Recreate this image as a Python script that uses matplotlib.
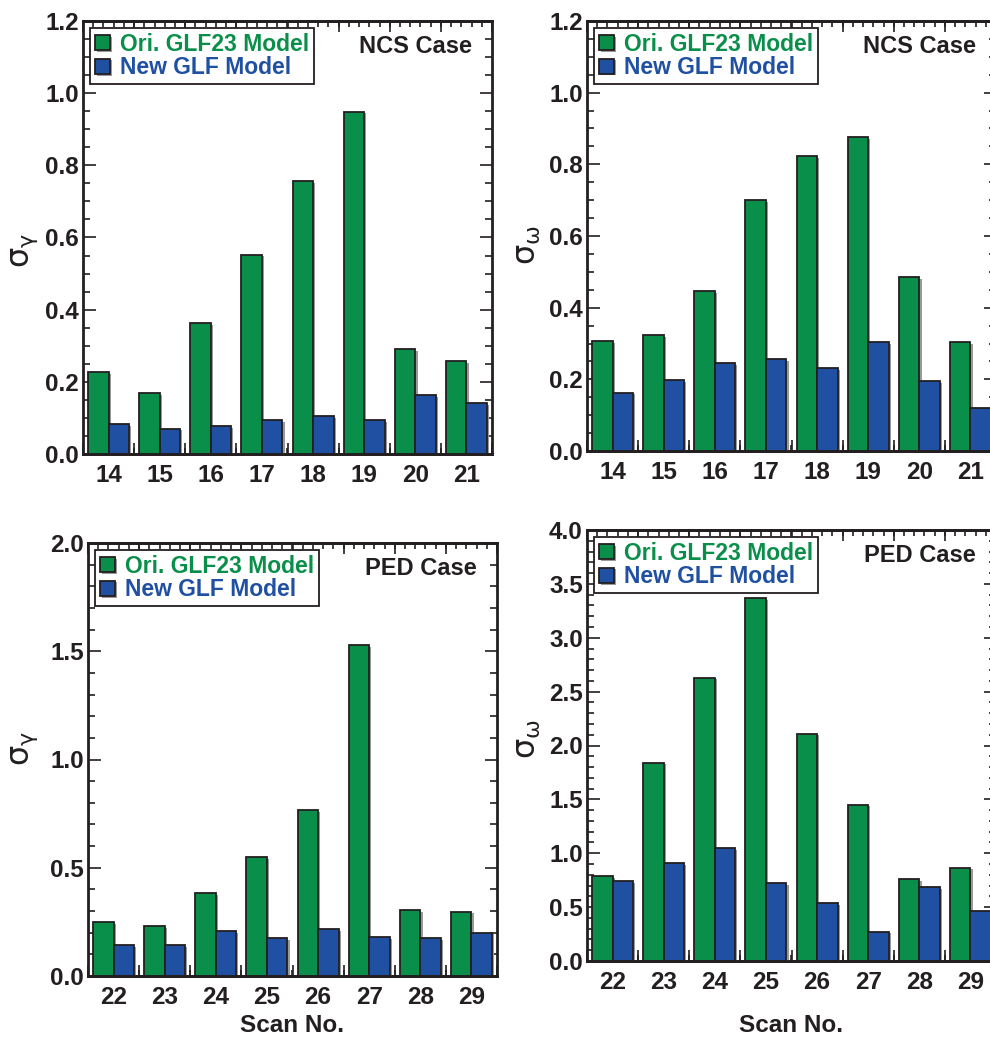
import matplotlib
matplotlib.use("Agg")
import matplotlib.pyplot as plt
import matplotlib.patheffects as pe
import numpy as np
from matplotlib.ticker import MultipleLocator

plt.rcParams['font.family'] = ['Liberation Sans', 'DejaVu Sans']
plt.rcParams['font.weight'] = 'bold'
plt.rcParams['mathtext.fontset'] = 'custom'
plt.rcParams['mathtext.rm'] = 'DejaVu Sans:weight=normal'
plt.rcParams['mathtext.it'] = 'DejaVu Sans:weight=normal'

# data
scan_ncs = [14, 15, 16, 17, 18, 19, 20, 21]
scan_ped = [22, 23, 24, 25, 26, 27, 28, 29]

gamma_ncs_ori = [0.227, 0.168, 0.363, 0.552, 0.757, 0.949, 0.291, 0.258]
gamma_ncs_new = [0.082, 0.070, 0.077, 0.093, 0.104, 0.093, 0.163, 0.140]

omega_ncs_ori = [0.307, 0.323, 0.446, 0.700, 0.822, 0.876, 0.485, 0.304]
omega_ncs_new = [0.163, 0.198, 0.245, 0.257, 0.231, 0.304, 0.195, 0.121]

gamma_ped_ori = [0.248, 0.230, 0.383, 0.550, 0.767, 1.529, 0.303, 0.297]
gamma_ped_new = [0.143, 0.143, 0.206, 0.174, 0.217, 0.180, 0.174, 0.200]

omega_ped_ori = [0.790, 1.840, 2.630, 3.370, 2.110, 1.450, 0.760, 0.865]
omega_ped_new = [0.740, 0.910, 1.050, 0.720, 0.535, 0.272, 0.684, 0.467]

GREEN = '#0a8f4a'
BLUE = '#2050a2'
INK = '#231f20'
W, H = 990, 1040

fig = plt.figure(figsize=(W / 100, H / 100), dpi=100)


def px_axes(l, r, t, b):
    return fig.add_axes([l / W, 1 - b / H, (r - l) / W, (b - t) / H])


def panel(ax, scans, ori, new, ymax, ymaj, ymin, case, ylab, ylab_px):
    x = np.array(scans, dtype=float)
    shadow = [pe.SimplePatchShadow(offset=(1.6, -1.2), shadow_rgbFace='0.6', alpha=1), pe.Normal()]
    b1 = ax.bar(x - 0.2, ori, width=0.4, color=GREEN, edgecolor=INK, lw=1.3,
                label='Ori. GLF23 Model', zorder=2)
    b2 = ax.bar(x + 0.2, new, width=0.4, color=BLUE, edgecolor=INK, lw=1.3,
                label='New GLF Model', zorder=2)
    for p in list(b1) + list(b2):
        p.set_path_effects(shadow)

    ax.set_xlim(scans[0] - 0.5, scans[-1] + 0.5)
    ax.set_ylim(0, ymax)
    ax.set_xticks(scans)
    ax.tick_params(axis='x', which='major', length=0, pad=7, labelsize=17.5, colors=INK)
    ax.xaxis.set_minor_locator(matplotlib.ticker.FixedLocator(np.arange(scans[0] - 0.5, scans[-1] + 0.51, 0.2)))
    ax.tick_params(axis='x', which='minor', length=4, width=1.2, direction='in', top=True, bottom=True, colors=INK)

    for loc in ('top', 'bottom'):
        sec = ax.secondary_xaxis(loc)
        sec.set_xticks(np.arange(scans[0] - 0.5, scans[-1] + 0.6, 1.0))
        sec.tick_params(length=8, width=1.2, direction='in', labelbottom=False, labeltop=False, colors=INK)
        sec.spines[loc].set_linewidth(2)
        sec.spines[loc].set_color(INK)

    ax.yaxis.set_major_locator(MultipleLocator(ymaj))
    ax.yaxis.set_minor_locator(MultipleLocator(ymin))
    ax.yaxis.set_major_formatter(matplotlib.ticker.FormatStrFormatter('%.1f'))
    ax.tick_params(axis='y', which='major', length=9, width=1.2, direction='in', left=True, right=True,
                   pad=3, labelsize=17.5, colors=INK)
    ax.tick_params(axis='y', which='minor', length=5, width=1.2, direction='in', left=True, right=True, colors=INK)
    for s in ax.spines.values():
        s.set_linewidth(2)
        s.set_color(INK)

    leg = ax.legend(loc='upper left', bbox_to_anchor=(0.006, 0.995), frameon=True, fancybox=False,
                    edgecolor=INK, framealpha=1, fontsize=16.5, handlelength=0.65, handleheight=0.65,
                    handletextpad=0.45, labelspacing=0.02, borderpad=0.22, borderaxespad=0.2)
    leg.get_frame().set_linewidth(1.3)
    for t, c in zip(leg.get_texts(), [GREEN, BLUE]):
        t.set_color(c)
    for h in leg.legend_handles:
        h.set_edgecolor(INK)
        h.set_linewidth(1.3)

    ax.text(0.95, 0.94, case, transform=ax.transAxes, ha='right', va='center', fontsize=17, color=INK)

    fig.text(ylab_px[0] / W, 1 - ylab_px[1] / H, ylab, rotation=90, ha='center', va='center',
             fontsize=23, color=INK, fontweight='normal')


ax1 = px_axes(83, 492, 21, 454)
panel(ax1, scan_ncs, gamma_ncs_ori, gamma_ncs_new, 1.2, 0.2, 0.05, 'NCS Case',
      r'$\mathrm{\sigma}_{\mathrm{\gamma}}$', (25, 250))

ax2 = px_axes(587, 996, 21, 451)
panel(ax2, scan_ncs, omega_ncs_ori, omega_ncs_new, 1.2, 0.2, 0.05, 'NCS Case',
      r'$\mathrm{\sigma}_{\mathrm{\omega}}$', (528, 245))

ax3 = px_axes(88, 497, 543, 976)
panel(ax3, scan_ped, gamma_ped_ori, gamma_ped_new, 2.0, 0.5, 0.1, 'PED Case',
      r'$\mathrm{\sigma}_{\mathrm{\gamma}}$', (25, 748))

ax4 = px_axes(587, 996, 530, 961)
panel(ax4, scan_ped, omega_ped_ori, omega_ped_new, 4.0, 0.5, 0.1, 'PED Case',
      r'$\mathrm{\sigma}_{\mathrm{\omega}}$', (528, 739))

fig.text(292 / W, 1 - 1025 / H, 'Scan No.', ha='center', va='center', fontsize=17.5, color=INK)
fig.text(791 / W, 1 - 1025 / H, 'Scan No.', ha='center', va='center', fontsize=17.5, color=INK)

fig.savefig('out.png', dpi=100)
